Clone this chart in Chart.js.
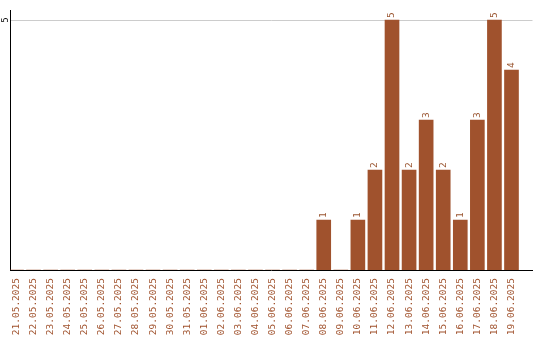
<!DOCTYPE html>
<html>
<head>
<meta charset="utf-8">
<script src="https://cdn.jsdelivr.net/npm/chart.js@4/dist/chart.umd.min.js"></script>
<style>
  html, body { margin: 0; padding: 0; background: #fff; }
  #wrap { width: 540px; height: 340px; }
</style>
</head>
<body>
<div id="wrap"><canvas id="grafico"></canvas></div>
<script>
// Date (categorie) e numero per giorno
const giorni = ['21.05.2025','22.05.2025','23.05.2025','24.05.2025','25.05.2025','26.05.2025','27.05.2025','28.05.2025','29.05.2025','30.05.2025',
  '31.05.2025','01.06.2025','02.06.2025','03.06.2025','04.06.2025','05.06.2025','06.06.2025','07.06.2025','08.06.2025','09.06.2025',
  '10.06.2025','11.06.2025','12.06.2025','13.06.2025','14.06.2025','15.06.2025','16.06.2025','17.06.2025','18.06.2025','19.06.2025'];
const valori = [0,0,0,0,0,0,0,0,0,0, 0,0,0,0,0,0,0,0,1,0, 1,2,5,2,3,2,1,3,5,4];
const tickY = [5];

const marrone = '#a0522d';

// Etichette sopra le barre e tick "5" ruotato
const etichette = {
  id: 'etichette',
  afterDatasetsDraw(chart) {
    const ctx = chart.ctx;
    const meta = chart.getDatasetMeta(0);
    ctx.save();
    ctx.font = '9.5px "DejaVu Sans Mono"';
    ctx.fillStyle = '#9a5530';
    ctx.textAlign = 'left';
    ctx.textBaseline = 'middle';
    meta.data.forEach((bar, i) => {
      if (!valori[i]) return;
      ctx.save();
      ctx.translate(bar.x, bar.y - 2);
      ctx.rotate(-Math.PI / 2);
      ctx.fillText(String(valori[i]), 0, 0);
      ctx.restore();
    });
    const y = chart.scales.y;
    ctx.fillStyle = '#000';
    ctx.font = '8px "DejaVu Sans"';
    ctx.textAlign = 'center';
    tickY.forEach(v => {
      ctx.save();
      ctx.translate(6, y.getPixelForValue(v));
      ctx.rotate(-Math.PI / 2);
      ctx.fillText(String(v), 0, 0);
      ctx.restore();
    });
    ctx.restore();
  }
};

const ctx = document.getElementById('grafico').getContext('2d');
new Chart(ctx, {
  type: 'bar',
  data: {
    datasets: [{
      data: valori.map((v, i) => ({ x: i, y: v })),
      backgroundColor: marrone,
      borderWidth: 0,
      barThickness: 14
    }]
  },
  options: {
    responsive: true,
    maintainAspectRatio: false,
    animation: false,
    layout: { padding: { left: 10, right: 5, top: 10, bottom: 0 } },
    plugins: { legend: { display: false }, tooltip: { enabled: false } },
    scales: {
      x: {
        type: 'linear',
        offset: false,
        min: -0.38,
        max: 30.23,
        afterFit: s => { s.height = 70; },
        grid: { display: false },
        border: { display: true, color: '#000', width: 1 },
        ticks: {
          stepSize: 1,
          includeBounds: false,
          autoSkip: false,
          minRotation: 90,
          maxRotation: 90,
          padding: 0,
          color: marrone,
          font: { family: 'DejaVu Sans Mono', size: 9.5 },
          callback: v => giorni[v] || ''
        }
      },
      y: {
        min: 0,
        max: 5.2,
        afterBuildTicks: s => { s.ticks = tickY.map(v => ({ value: v })); },
        grid: { color: '#cccccc', drawTicks: false },
        border: { display: true, color: '#000', width: 1 },
        ticks: { display: false }
      }
    }
  },
  plugins: [etichette]
});
</script>
</body>
</html>
